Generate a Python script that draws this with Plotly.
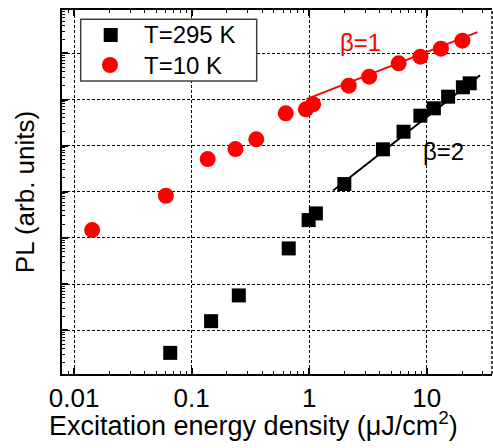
import numpy as np
import plotly.graph_objects as go

# T=10 K (red circles)
x10 = [0.01425, 0.0604, 0.137, 0.236, 0.355, 0.632, 0.937, 1.08, 2.17, 3.24, 5.77, 8.83, 13.2, 20.1]
y10 = [10**v for v in [3.169, 3.913, 4.709, 4.926, 5.137, 5.701, 5.787, 5.896, 6.299, 6.495, 6.785, 6.928, 7.102, 7.275]]

# T=295 K (black squares)
x295 = [0.0658, 0.1465, 0.252, 0.670, 0.989, 1.14, 1.99, 4.24, 6.35, 8.83, 11.5, 15.2, 20.3, 23.2]
y295 = [10**v for v in [0.508, 1.195, 1.753, 2.772, 3.386, 3.531, 4.167, 4.920, 5.302, 5.649, 5.809, 6.061, 6.265, 6.351]]

# power-law fits  PL = A * x^beta
beta1, logA1, fit1_range = 1.0, 6.03, [0.95, 27.0]
beta2, logA2, fit2_range = 2.0, 3.62, [1.6, 28.4]

legend_names = ["T=295 K", "T=10 K"]
x_title = "Excitation energy density (μJ/cm<sup>2</sup>)"
y_title = "PL (arb. units)"

def fit(beta, logA, rng):
    xs = np.array(rng)
    return xs, 10**logA * xs**beta

font = "Arial, Liberation Sans, sans-serif"

W, H = 493, 448
ML, MR, MT, MB = 62, 1, 10, 74
PW, PH = W - ML - MR, H - MT - MB

def px(x):  # pixel -> paper x
    return (x - ML) / PW

def py(y):  # pixel -> paper y
    return (H - MB - y) / PH

fig = go.Figure()
fx1, fy1 = fit(beta1, logA1, fit1_range)
fx2, fy2 = fit(beta2, logA2, fit2_range)
fig.add_trace(go.Scatter(x=fx1, y=fy1, mode="lines", line=dict(color="red", width=2), showlegend=False))
fig.add_trace(go.Scatter(x=fx2, y=fy2, mode="lines", line=dict(color="black", width=2), showlegend=False))
fig.add_trace(go.Scatter(x=x295, y=y295, mode="markers", name=legend_names[0], showlegend=False,
                         marker=dict(symbol="square", size=14, color="black", line=dict(width=0))))
fig.add_trace(go.Scatter(x=x10, y=y10, mode="markers", name=legend_names[1], showlegend=False,
                         marker=dict(symbol="circle", size=16, color="red", line=dict(width=0))))

axis_common = dict(
    type="log", showline=True, linecolor="black", linewidth=2,
    ticks="inside", ticklen=6, tickwidth=1.5, tickcolor="black",
    showgrid=True, gridcolor="black", gridwidth=1, griddash="3px,2px",
    zeroline=False,
    minor=dict(ticks="inside", ticklen=3, tickwidth=1, tickcolor="black", dtick="D1", showgrid=False),
)

fig.update_xaxes(**axis_common, mirror="ticks", range=[np.log10(0.0079), np.log10(35.9)], dtick=1,
                 tickvals=[0.01, 0.1, 1, 10], ticktext=["0.01", "0.1", "1", "10"],
                 tickfont=dict(family=font, size=26, color="black"), ticklabelstandoff=0)
fig.update_yaxes(**axis_common, mirror=False, range=[0.05, 7.94], dtick=1, showticklabels=False,
                 title=dict(text=y_title, font=dict(family=font, size=26, color="black"), standoff=18))

# x-axis title (offset left of plot centre, as in the reference)
fig.add_annotation(text=x_title, x=px(253), y=py(424), xref="paper", yref="paper", showarrow=False,
                   xanchor="center", yanchor="middle", font=dict(family=font, size=27, color="black"))

# right border: dashed
fig.add_shape(type="line", xref="paper", yref="paper", x0=1, x1=1, y0=0, y1=1,
              line=dict(color="black", width=1.5, dash="3px,2px"))

fig.add_annotation(text="β=1", x=px(360), y=py(42), xref="paper", yref="paper", showarrow=False,
                   xanchor="center", yanchor="middle", font=dict(family=font, size=24, color="red"))
fig.add_annotation(text="β=2", x=px(443), y=py(152), xref="paper", yref="paper", showarrow=False,
                   xanchor="center", yanchor="middle", font=dict(family=font, size=24, color="black"))

# legend box drawn as layout
fig.add_shape(type="rect", xref="paper", yref="paper", x0=px(80.7), x1=px(256.7), y0=py(81), y1=py(19.3),
              line=dict(color="#404040", width=1.5), fillcolor="white", layer="above")
fig.add_shape(type="rect", xref="paper", yref="paper", x0=px(103.7), x1=px(117.7), y0=py(42), y1=py(28),
              line=dict(width=0), fillcolor="black", layer="above")
fig.add_shape(type="circle", xref="paper", yref="paper", x0=px(102), x1=px(118), y0=py(73), y1=py(57),
              line=dict(width=0), fillcolor="red", layer="above")
for name, yc in zip(legend_names, [35, 65]):
    fig.add_annotation(text=name, x=px(142), y=py(yc), xref="paper", yref="paper", showarrow=False,
                       xanchor="left", yanchor="middle", font=dict(family=font, size=24, color="black"))

fig.update_layout(
    width=W, height=H,
    margin=dict(l=ML, r=MR, t=MT, b=MB),
    paper_bgcolor="white", plot_bgcolor="white",
    showlegend=False,
)

fig.write_html("out.html")
